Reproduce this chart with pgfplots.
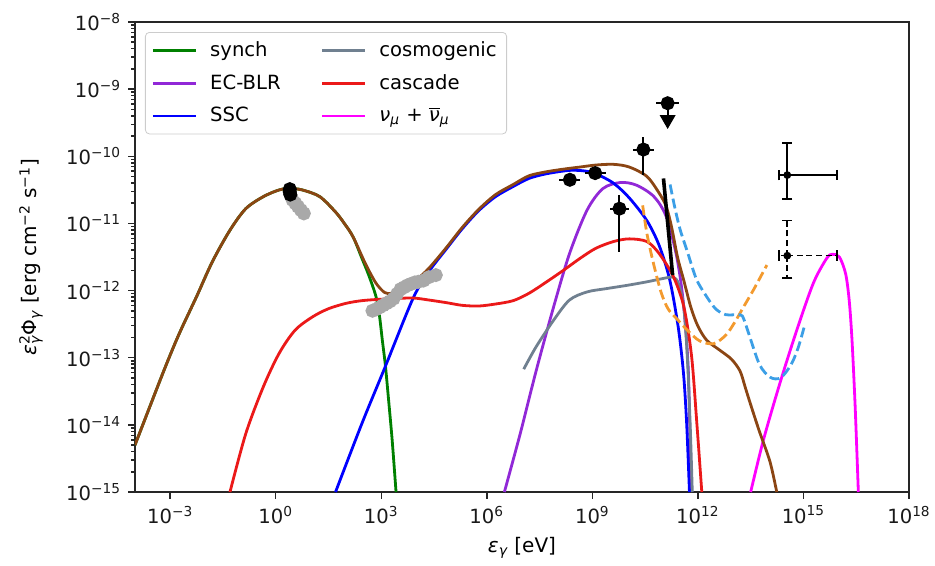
\documentclass[border=0pt]{standalone}
\usepackage{fontspec}
\setmainfont{DejaVu Sans}
\usepackage{pgfplots}
\pgfplotsset{compat=1.18}

\definecolor{csynch}{RGB}{0,128,0}
\definecolor{cec}{RGB}{145,40,215}
\definecolor{cssc}{RGB}{0,0,255}
\definecolor{ccosmo}{RGB}{112,128,144}
\definecolor{ccasc}{RGB}{235,25,25}
\definecolor{cnu}{RGB}{255,0,255}
\definecolor{ctot}{RGB}{139,69,19}
\definecolor{corange}{RGB}{243,154,46}
\definecolor{csens}{RGB}{60,159,230}
\definecolor{cpts}{RGB}{169,169,169}

\newcommand{\sub}[1]{\textsubscript{\itshape #1}}
\newcommand{\msup}[1]{\textsuperscript{−#1}}

\begin{document}
\begin{tikzpicture}
\path[use as bounding box] (-67.5pt,-37pt) rectangle (400pt,246pt);
\begin{axis}[
  at={(0pt,0pt)}, anchor=south west,
  width=387pt, height=235pt, scale only axis,
  xmode=log, ymode=log,
  xmin=1e-4, xmax=1e18, ymin=1e-15, ymax=1e-8,
  xtick={1e-3,1e0,1e3,1e6,1e9,1e12,1e15,1e18},
  xticklabels={10\msup{3},10\textsuperscript{0},10\textsuperscript{3},10\textsuperscript{6},10\textsuperscript{9},10\textsuperscript{12},10\textsuperscript{15},10\textsuperscript{18}},
  minor xtick={},
  ytick={1e-15,1e-14,1e-13,1e-12,1e-11,1e-10,1e-9,1e-8},
  yticklabels={10\msup{15},10\msup{14},10\msup{13},10\msup{12},10\msup{11},10\msup{10},10\msup{9},10\msup{8}},
  minor ytick={2e-15,3e-15,4e-15,5e-15,6e-15,7e-15,8e-15,9e-15,
    2e-14,3e-14,4e-14,5e-14,6e-14,7e-14,8e-14,9e-14,
    2e-13,3e-13,4e-13,5e-13,6e-13,7e-13,8e-13,9e-13,
    2e-12,3e-12,4e-12,5e-12,6e-12,7e-12,8e-12,9e-12,
    2e-11,3e-11,4e-11,5e-11,6e-11,7e-11,8e-11,9e-11,
    2e-10,3e-10,4e-10,5e-10,6e-10,7e-10,8e-10,9e-10,
    2e-9,3e-9,4e-9,5e-9,6e-9,7e-9,8e-9,9e-9},
  tick pos=left, tick align=outside,
  major tick length=3.4pt, minor tick length=2pt,
  every tick/.style={black!85, line width=0.75pt},
  axis line style={black!85, line width=0.8pt},
  tick label style={font=\fontsize{9.8}{11}\selectfont, black!90},
  label style={font=\fontsize{9.8}{11}\selectfont},
  xlabel={{\itshape ε}\sub{γ} [eV]},
  ylabel={{\itshape ε}\rlap{\textsuperscript{2}}\sub{γ}Φ\sub{γ} [erg cm\msup{2} s\msup{1}]},
  every axis x label/.style={at={(axis description cs:0.5,0)}, yshift=-28pt, anchor=center},
  every axis y label/.style={at={(axis description cs:0,0.5)}, xshift=-52pt, rotate=90, anchor=center},
  legend columns=2,
  legend cell align=left,
  legend style={at={(0,1)}, anchor=north west, xshift=5pt, yshift=-5pt,
    draw=black!20, rounded corners=2pt, fill=white,
    font=\fontsize{9.8}{11}\selectfont, row sep=3.5pt,
    inner xsep=3pt, inner ysep=2.5pt,
    /tikz/every odd column/.append style={column sep=4.5pt},
    /tikz/every even column/.append style={column sep=18pt}},
  legend image code/.code={\draw[#1, line width=1.4pt] (0pt,0pt) -- (21.5pt,0pt);},
  every axis plot/.append style={line width=1.4pt},
]
\addlegendimage{csynch}\addlegendentry{synch}
\addlegendimage{ccosmo}\addlegendentry{cosmogenic}
\addlegendimage{cec}\addlegendentry{EC-BLR}
\addlegendimage{ccasc}\addlegendentry{cascade}
\addlegendimage{cssc}\addlegendentry{SSC}
\addlegendimage{cnu}\addlegendentry{{\itshape ν}\sub{μ} + $\overline{\hbox{\itshape ν}}$\sub{μ}}

% synchrotron
\addplot[csynch, smooth, tension=0.5, forget plot] coordinates {
(1e-4,5.01e-15) (6.31e-4,6.03e-14) (1.78e-3,2.24e-13) (5.62e-3,8.13e-13) (1.58e-2,2.69e-12) (5.01e-2,7.94e-12) (1.41e-1,1.66e-11) (4.47e-1,2.51e-11) (1.26,3.16e-11) (2.51,3.31e-11) (5.62,3.16e-11) (17.8,2.51e-11) (50.1,1.48e-11) (89.1,1.0e-11) (158,6.31e-12) (282,3.02e-12) (447,1.66e-12) (708,8.13e-13) (891,4.17e-13) (1072,1.82e-13) (1318,7.41e-14) (1660,2.0e-14) (2042,5.89e-15) (2630,1e-15)};
% external Compton on the BLR
\addplot[cec, smooth, tension=0.5, forget plot] coordinates {
(3.16e6,1e-15) (8.91e6,7.41e-15) (2.51e7,6.31e-14) (7.94e7,5.75e-13) (2.24e8,3.55e-12) (7.08e8,1.58e-11) (2.0e9,3.31e-11) (6.31e9,4.07e-11) (1.78e10,3.72e-11) (5.62e10,2.51e-11) (1.26e11,1.26e-11) (2.51e11,3.16e-12) (3.89e11,6.31e-13) (5.37e11,5.89e-14) (6.31e11,1e-15)};
% synchrotron self-Compton
\addplot[cssc, smooth, tension=0.5, forget plot] coordinates {
(50.1,1e-15) (282,1.05e-14) (1259,7.08e-14) (7943,7.59e-13) (2.24e4,1.91e-12) (7.08e4,4.17e-12) (2.0e5,8.32e-12) (5.89e5,1.55e-11) (1.78e6,2.51e-11) (5.62e6,3.55e-11) (1.58e7,4.68e-11) (5.01e7,5.50e-11) (2.24e8,6.17e-11) (6.31e8,6.03e-11) (1.26e9,5.50e-11) (3.98e9,3.98e-11) (1.12e10,2.40e-11) (3.55e10,1.10e-11) (7.94e10,4.68e-12) (1.58e11,1.45e-12) (2.75e11,2.88e-13) (3.89e11,5.89e-14) (4.79e11,1.05e-14) (5.75e11,1e-15)};
% cosmogenic
\addplot[ccosmo, smooth, tension=0.5, forget plot] coordinates {
(1.12e7,6.76e-14) (2.51e7,1.45e-13) (7.94e7,3.63e-13) (2.24e8,7.24e-13) (7.08e8,9.55e-13) (2.51e9,1.07e-12) (1e10,1.20e-12) (3.55e10,1.35e-12) (1e11,1.51e-12) (2.0e11,1.58e-12) (2.82e11,1.26e-12) (3.98e11,5.62e-13) (5.01e11,1.0e-13) (6.03e11,1e-14) (6.92e11,1e-15)};
% cascade
\addplot[ccasc, smooth, tension=0.5, forget plot] coordinates {
(5.01e-2,1e-15) (1.41e-1,7.41e-15) (4.47e-1,3.72e-14) (1.26,1.17e-13) (3.55,2.57e-13) (11.2,4.07e-13) (31.6,5.37e-13) (100,6.46e-13) (282,7.08e-13) (891,7.41e-13) (2512,7.59e-13) (7943,7.76e-13) (2.24e4,7.24e-13) (7.08e4,6.61e-13) (2.0e5,6.03e-13) (5.89e5,5.89e-13) (1.78e6,6.31e-13) (5.62e6,7.08e-13) (1.58e7,9.12e-13) (5.01e7,1.35e-12) (1.58e8,2.04e-12) (4.47e8,3.02e-12) (1.26e9,4.27e-12) (3.98e9,5.37e-12) (1.12e10,5.89e-12) (3.55e10,5.37e-12) (7.94e10,3.55e-12) (2.0e11,1.62e-12) (3.98e11,5.75e-13) (6.61e11,1.05e-13) (9.33e11,1.05e-14) (1.29e12,1e-15)};
% muon neutrinos
\addplot[cnu, smooth, tension=0.5, forget plot] coordinates {
(3.16e13,1e-15) (7.24e13,5.89e-15) (2.14e14,4.17e-14) (6.46e14,2.57e-13) (1.91e15,1.29e-12) (4.57e15,3.02e-12) (6.61e15,3.47e-12) (1.05e16,3.16e-12) (1.58e16,1.78e-12) (2.0e16,7.08e-13) (2.40e16,1.82e-13) (2.95e16,1.86e-14) (3.63e16,1e-15)};
% total
\addplot[ctot, smooth, tension=0.5, forget plot] coordinates {
(1e-4,5.01e-15) (6.31e-4,6.03e-14) (1.78e-3,2.24e-13) (5.62e-3,8.13e-13) (1.58e-2,2.69e-12) (5.01e-2,7.94e-12) (1.41e-1,1.66e-11) (4.47e-1,2.51e-11) (1.26,3.16e-11) (2.51,3.31e-11) (5.62,3.16e-11) (17.8,2.51e-11) (50.1,1.48e-11) (89.1,1.0e-11) (158,6.31e-12) (355,2.51e-12) (708,1.29e-12) (1259,9.33e-13) (1995,9.12e-13) (3981,1.02e-12) (1e4,1.45e-12) (2.24e4,2.14e-12) (7.08e4,4.37e-12) (2.0e5,8.71e-12) (5.89e5,1.62e-11) (1.78e6,2.69e-11) (5.62e6,3.80e-11) (1.58e7,5.13e-11) (5.01e7,5.89e-11) (1.58e8,6.46e-11) (4.47e8,6.92e-11) (1.26e9,7.41e-11) (3.98e9,7.59e-11) (1.12e10,6.92e-11) (3.55e10,5.01e-11) (7.94e10,2.82e-11) (1.26e11,1.78e-11) (1.78e11,8.91e-12) (2.63e11,3.16e-12) (3.98e11,1.41e-12) (6.31e11,5.62e-13) (1e12,2.95e-13) (1.78e12,1.82e-13) (3.98e12,1.32e-13) (8.91e12,9.55e-14) (1.58e13,6.31e-14) (2.24e13,3.55e-14) (3.16e13,2.0e-14) (5.62e13,7.94e-15) (1.12e14,2.82e-15) (1.74e14,1e-15)};
% sensitivity curves
\addplot[corange, smooth, tension=0.5, dash pattern=on 5pt off 2.2pt, forget plot] coordinates {
(2.69e10,1.86e-11) (3.55e10,7.08e-12) (5.37e10,2.63e-12) (8.91e10,9.55e-13) (1.41e11,5.37e-13) (2.51e11,3.80e-13) (5.01e11,2.57e-13) (1.12e12,1.78e-13) (2.82e12,1.62e-13) (6.31e12,2.19e-13) (1.12e13,3.39e-13) (2.0e13,5.75e-13) (3.98e13,1.07e-12) (9.12e13,2.40e-12)};
\addplot[csens, smooth, tension=0.5, dash pattern=on 5pt off 2.2pt, forget plot] coordinates {
(1.62e11,3.80e-11) (2.24e11,1.66e-11) (3.16e11,7.94e-12) (5.01e11,3.80e-12) (8.91e11,1.51e-12) (1.58e12,8.91e-13) (3.16e12,5.37e-13) (6.31e12,4.37e-13) (1.58e13,4.37e-13) (2.0e13,3.80e-13) (2.82e13,2.24e-13) (5.62e13,7.94e-14) (1.12e14,5.13e-14) (2.24e14,5.01e-14) (4.47e14,7.94e-14) (7.08e14,1.41e-13) (1.05e15,2.88e-13)};

% optical and X-ray data
\addplot[only marks, mark=*, mark size=2.8pt, cpts, forget plot] coordinates {
(3.0,2.24e-11) (3.6,2.0e-11) (4.3,1.78e-11) (5.2,1.58e-11) (6.3,1.41e-11)};
\addplot[only marks, mark=*, mark size=2.8pt, black, forget plot] coordinates {
(2.51,3.24e-11) (2.51,2.95e-11) (2.6,2.69e-11)};
\addplot[only marks, mark=*, mark size=2.8pt, cpts, forget plot,
  error bars/.cd, y dir=minus, y explicit, error mark=none,
  error bar style={cpts, line width=1pt}] coordinates {
(562,5.01e-13) (708,5.25e-13) (891,5.62e-13) -= (0,1.3e-13) (1122,6.03e-13) -= (0,1.4e-13) (1413,6.46e-13) -= (0,1.5e-13) (1778,6.92e-13) -= (0,1.6e-13) (2239,7.59e-13) -= (0,1.6e-13) (2818,8.91e-13) (3548,1.05e-12) (4467,1.12e-12) (5623,1.20e-12) (7079,1.26e-12) (8913,1.32e-12) (11220,1.35e-12) (15850,1.41e-12) (22390,1.58e-12) (35480,1.70e-12)};

% gamma-ray data
\addplot[only marks, mark=*, mark size=2.8pt, black, forget plot,
  error bars/.cd, x dir=both, x explicit, y dir=both, y explicit, error mark=none,
  error bar style={black, line width=1pt}] coordinates {
(2.29e8,4.47e-11) += (2.28e8,0) -= (1.14e8,0)
(1.20e9,5.62e-11) += (1.20e9,0) -= (5.97e8,0)
(5.89e9,1.66e-11) += (5.31e9,9.7e-12) -= (2.80e9,1.28e-11)
(2.82e10,1.26e-10) += (2.80e10,6.9e-11) -= (1.41e10,7.35e-11)
(1.38e11,6.17e-10) += (1.50e11,0) -= (7.19e10,2.67e-10)};
\addplot[only marks, mark=triangle*, mark size=3.2pt, black, forget plot,
  every mark/.append style={rotate=180}] coordinates {(1.38e11,3.5e-10)};
\addplot[black, line width=1.8pt, forget plot] coordinates {(1.05e11,4.68e-11) (1.91e11,1.70e-12)};

% neutrino flux points
\addplot[only marks, mark=*, mark size=1.2pt, black, forget plot,
  error bars/.cd, x dir=both, x explicit, y dir=both, y explicit,
  error mark options={rotate=90, black, line width=0.8pt, mark size=2.6pt},
  error bar style={black, line width=0.8pt}] coordinates {
(3.47e14,5.25e-11) += (8.77e15,1.055e-10) -= (1.43e14,2.96e-11)};
\addplot[only marks, mark=*, mark size=1.2pt, black, forget plot,
  error bars/.cd, x dir=both, x explicit, y dir=both, y explicit,
  error mark options={rotate=90, black, line width=0.8pt, mark size=2.6pt, solid},
  error bar style={black, line width=0.8pt, dash pattern=on 3pt off 1.8pt}] coordinates {
(3.47e14,3.31e-12) += (8.77e15,7.69e-12) -= (1.43e14,1.76e-12)};
\end{axis}
\end{tikzpicture}
\end{document}
